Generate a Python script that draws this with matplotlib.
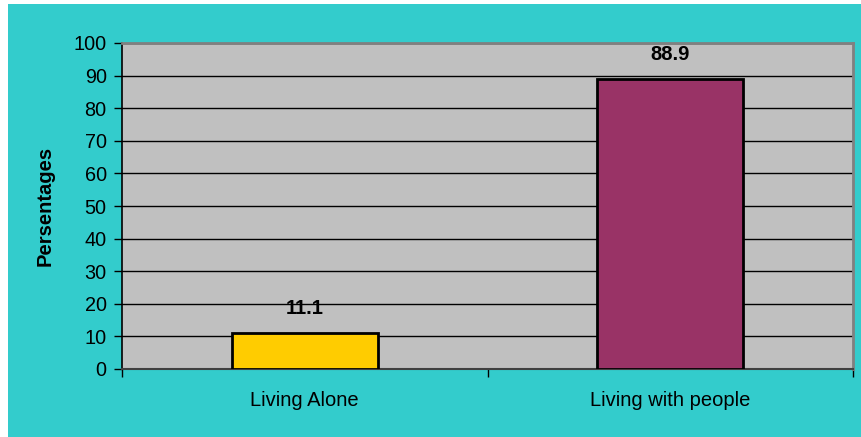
import matplotlib
matplotlib.use("Agg")
import matplotlib.pyplot as plt
from matplotlib.patches import Rectangle

categories = ["Living Alone", "Living with people"]
values = [11.1, 88.9]
bar_colors = ["#FFCC00", "#993366"]
y_ticks = list(range(0, 101, 10))

plt.rcParams["font.family"] = ["Liberation Sans", "DejaVu Sans"]

W, H = 861, 437
fig = plt.figure(figsize=(W / 100, H / 100), dpi=100, facecolor="white")

# teal chart background with a thin white margin top/left
fig.patches.append(Rectangle((8 / W, 0), 1 - 8 / W, 1 - 4 / H,
                             transform=fig.transFigure, facecolor="#33CCCC",
                             edgecolor="none", zorder=-10))

ax = fig.add_axes([122 / W, (H - 369) / H, (853 - 122) / W, (369 - 43) / H])
ax.set_zorder(1)
ax.set_facecolor("#C0C0C0")

x = list(range(len(categories)))
ax.bar(x, values, width=0.4, color=bar_colors, edgecolor="black",
       linewidth=2, zorder=3)
for xi, v in zip(x, values):
    ax.annotate(f"{v:.1f}", (xi, v), xytext=(0, 11), textcoords="offset points",
                ha="center", va="bottom", fontsize=14.5, fontweight="bold")

ax.set_xlim(-0.5, 1.5)
ax.set_ylim(0, 100)
ax.set_yticks(y_ticks)
ax.yaxis.grid(True, color="black", linewidth=1)
ax.set_axisbelow(True)

ax.set_xticks(x)
ax.set_xticklabels(categories, fontsize=14.5)
ax.set_xticks([-0.5, 0.5, 1.5], minor=True)
ax.tick_params(axis="x", which="major", length=0, pad=16)
ax.tick_params(axis="x", which="minor", length=6, width=1, color="black")
ax.tick_params(axis="y", labelsize=14.3, length=6, width=1, color="black", pad=5)

ax.spines["left"].set_color("black")
ax.spines["bottom"].set_color("#404040")
for s in ("top", "right"):
    ax.spines[s].set_color("#808080")
    ax.spines[s].set_linewidth(2)
ax.spines["left"].set_linewidth(1.2)
ax.spines["bottom"].set_linewidth(1.5)

ax.set_ylabel("Persentages", fontsize=14.5, fontweight="bold", labelpad=14)

fig.savefig("out.png", dpi=100, facecolor=fig.get_facecolor())
